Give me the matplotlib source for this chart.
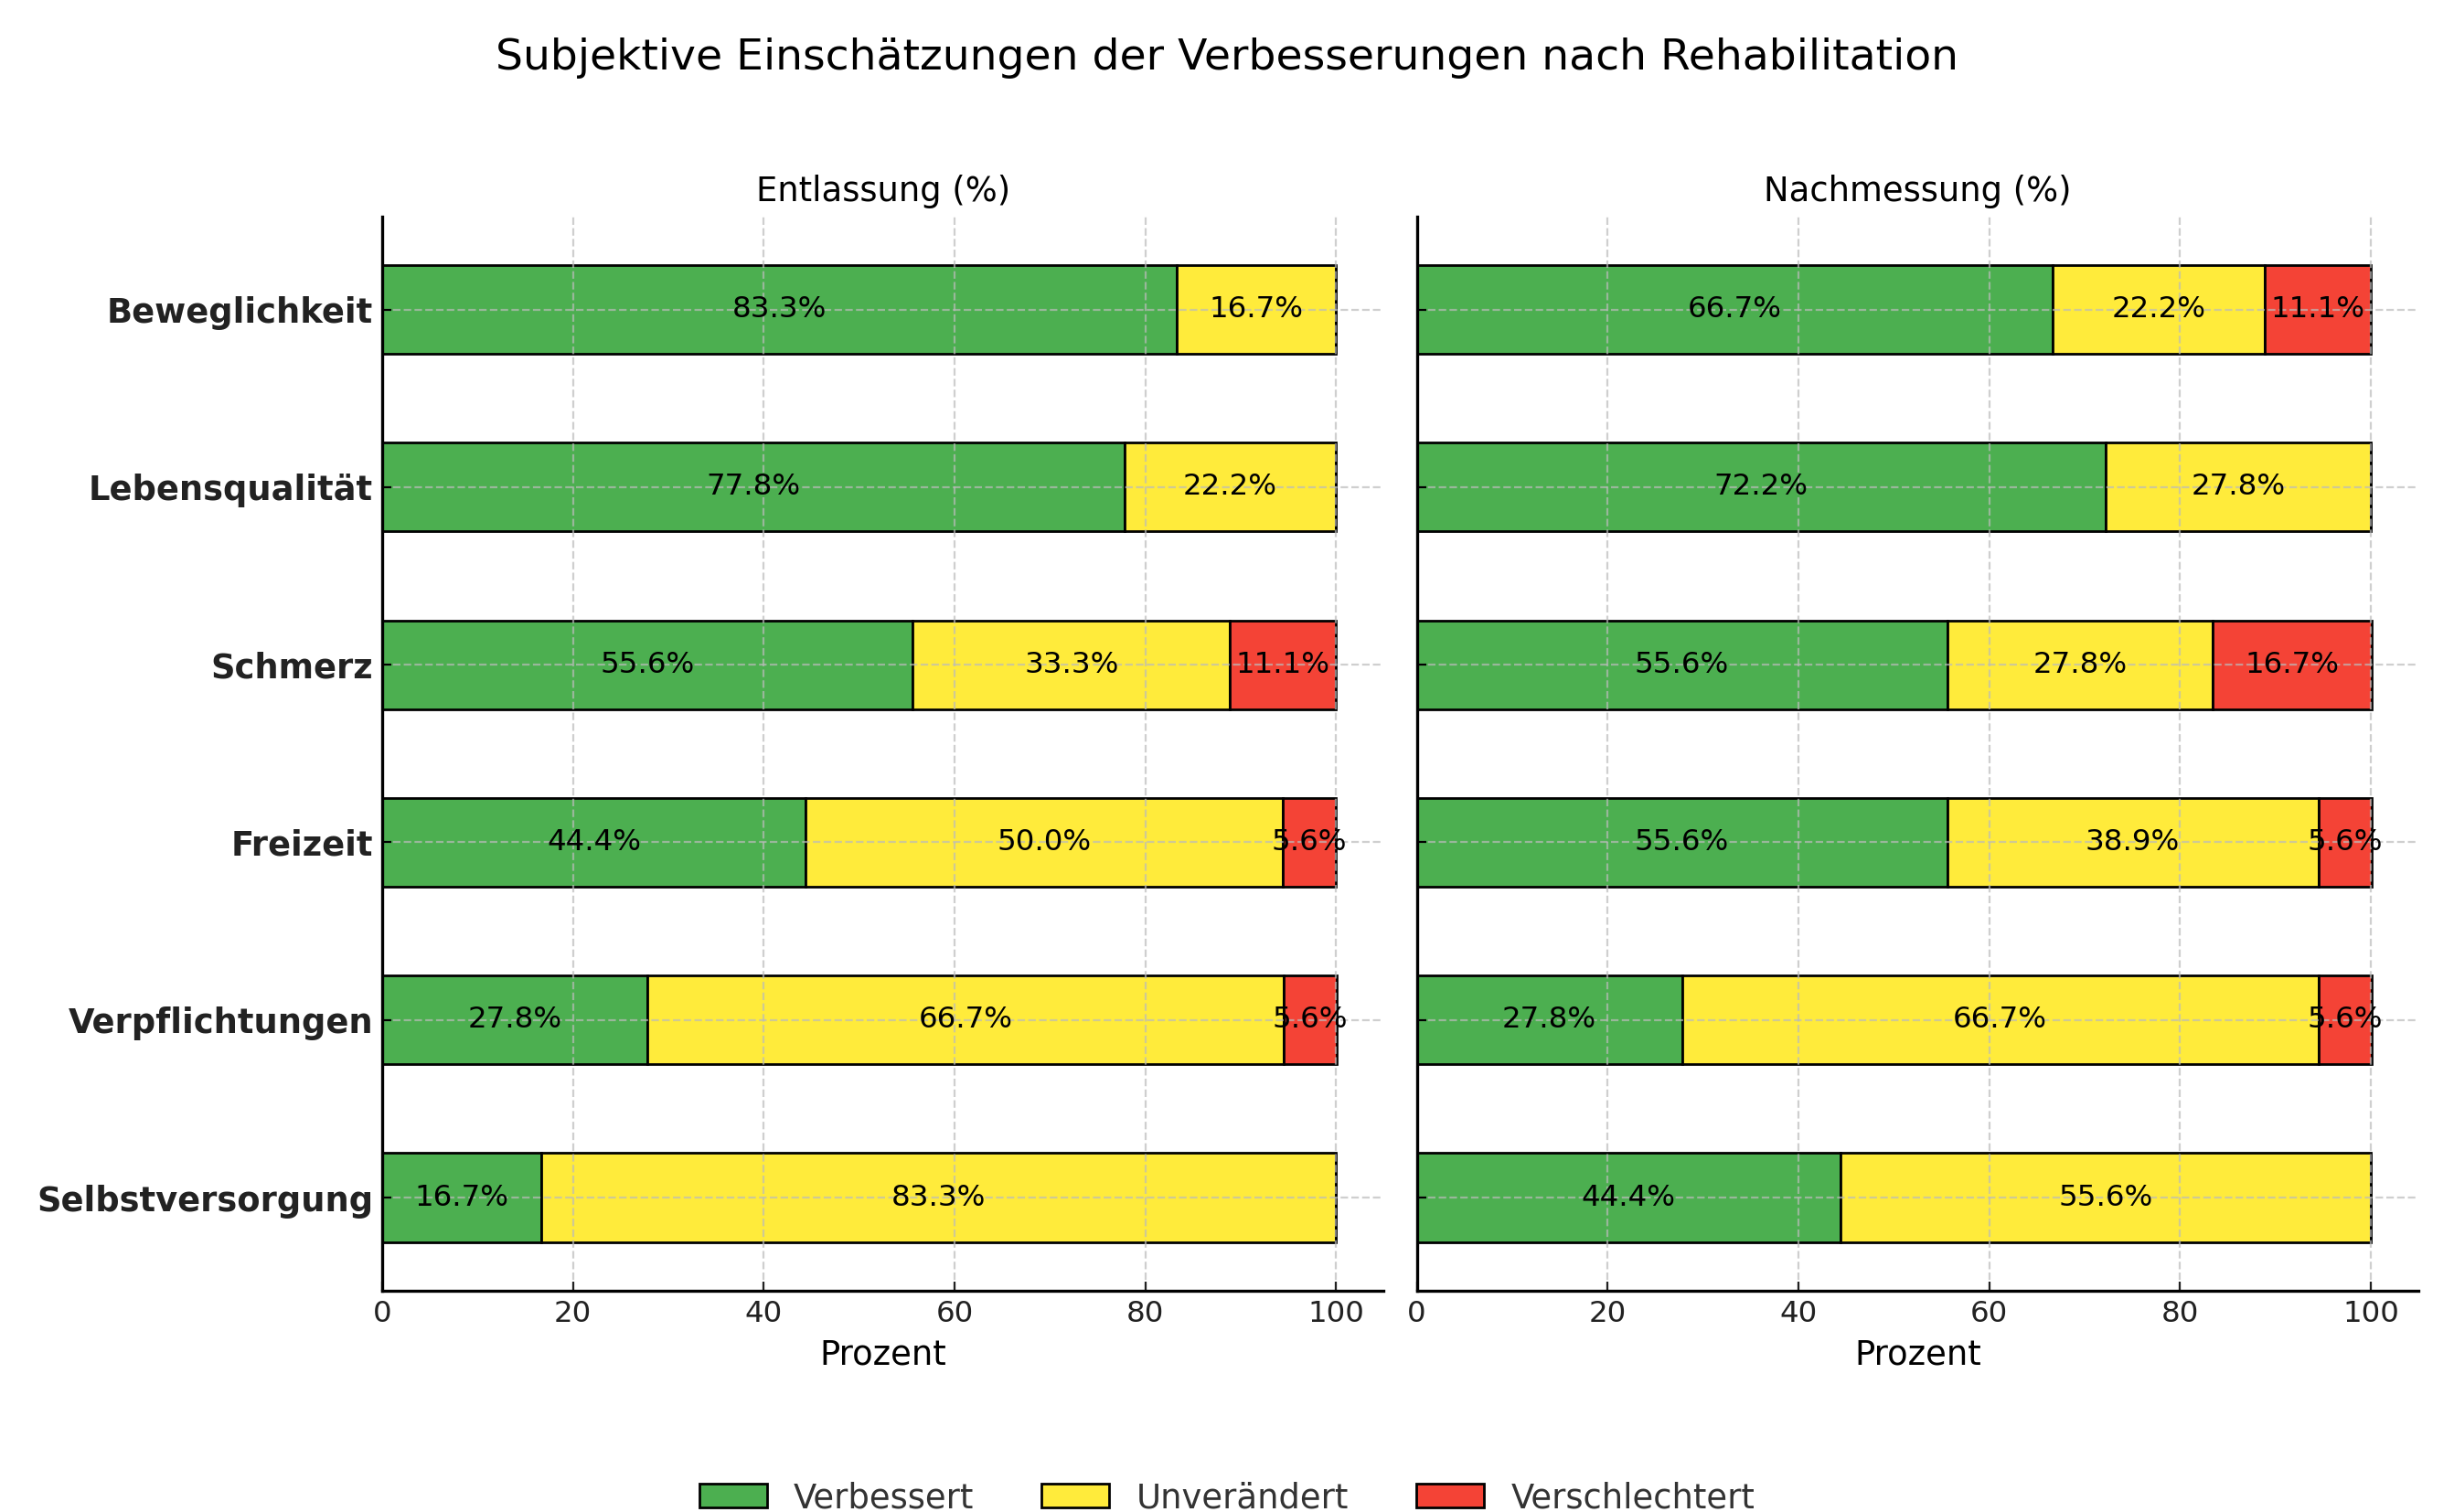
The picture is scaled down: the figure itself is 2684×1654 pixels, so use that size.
import matplotlib.pyplot as plt
import numpy as np

# Categories (top to bottom) and shares in percent
categories = ['Beweglichkeit', 'Lebensqualität', 'Schmerz', 'Freizeit',
              'Verpflichtungen', 'Selbstversorgung']
series_names = ['Verbessert', 'Unverändert', 'Verschlechtert']
colors = ['#4CAF50', '#FFEB3B', '#F44336']

entlassung_verbessert = [83.3, 77.8, 55.6, 44.4, 27.8, 16.7]
entlassung_unveraendert = [16.7, 22.2, 33.3, 50.0, 66.7, 83.3]
entlassung_verschlechtert = [0.0, 0.0, 11.1, 5.6, 5.6, 0.0]

nachmessung_verbessert = [66.7, 72.2, 55.6, 55.6, 27.8, 44.4]
nachmessung_unveraendert = [22.2, 27.8, 27.8, 38.9, 66.7, 55.6]
nachmessung_verschlechtert = [11.1, 0.0, 16.7, 5.6, 5.6, 0.0]

panels = [
    ('Entlassung (%)', [entlassung_verbessert, entlassung_unveraendert, entlassung_verschlechtert]),
    ('Nachmessung (%)', [nachmessung_verbessert, nachmessung_unveraendert, nachmessung_verschlechtert]),
]

fig, axes = plt.subplots(1, 2, figsize=(13.42, 8.27), dpi=200, sharey=True)
fig.subplots_adjust(left=0.1557, right=0.9855, top=0.857, bottom=0.1463, wspace=0.033)

y = np.arange(len(categories))

for ax, (title, values) in zip(axes, panels):
    left = np.zeros(len(categories))
    for name, vals, col in zip(series_names, values, colors):
        vals = np.array(vals)
        bars = ax.barh(y, vals, left=left, height=0.5, color=col,
                       edgecolor='black', linewidth=1, label=name)
        for b, v in zip(bars, vals):
            if v > 0:
                ax.text(b.get_x() + b.get_width() / 2, b.get_y() + b.get_height() / 2,
                        f'{v:.1f}%', ha='center', va='center', fontsize=11.7, color='black')
        left += vals
    ax.set_title(title, fontsize=13.3)
    ax.set_xlabel('Prozent', fontsize=13.3)
    ax.set_xlim(0, 105)
    ax.set_xticks([0, 20, 40, 60, 80, 100])
    ax.grid(True, linestyle='--', color='#bbbbbb', alpha=0.7, linewidth=0.8)
    ax.spines['top'].set_visible(False)
    ax.spines['right'].set_visible(False)
    ax.spines['left'].set_linewidth(1.2)
    ax.spines['bottom'].set_linewidth(1.2)
    ax.tick_params(direction='in')
    ax.tick_params(axis='x', labelsize=11.7, colors='#222222')

axes[0].set_yticks(y)
axes[0].set_yticklabels(categories, fontsize=13.3, fontweight='bold', color='#222222')
axes[0].invert_yaxis()
axes[1].tick_params(axis='y', labelleft=False)

fig.suptitle('Subjektive Einschätzungen der Verbesserungen nach Rehabilitation',
             fontsize=17, y=0.975, x=0.5)

handles, labels = axes[0].get_legend_handles_labels()
leg = fig.legend(handles, labels, loc='lower center', ncol=3, frameon=False,
                 fontsize=13.3, bbox_to_anchor=(0.5, -0.022), handlelength=2.0,
                 columnspacing=2.0)
for t in leg.get_texts():
    t.set_color('#333333')

fig.savefig('out.png', dpi=200)
